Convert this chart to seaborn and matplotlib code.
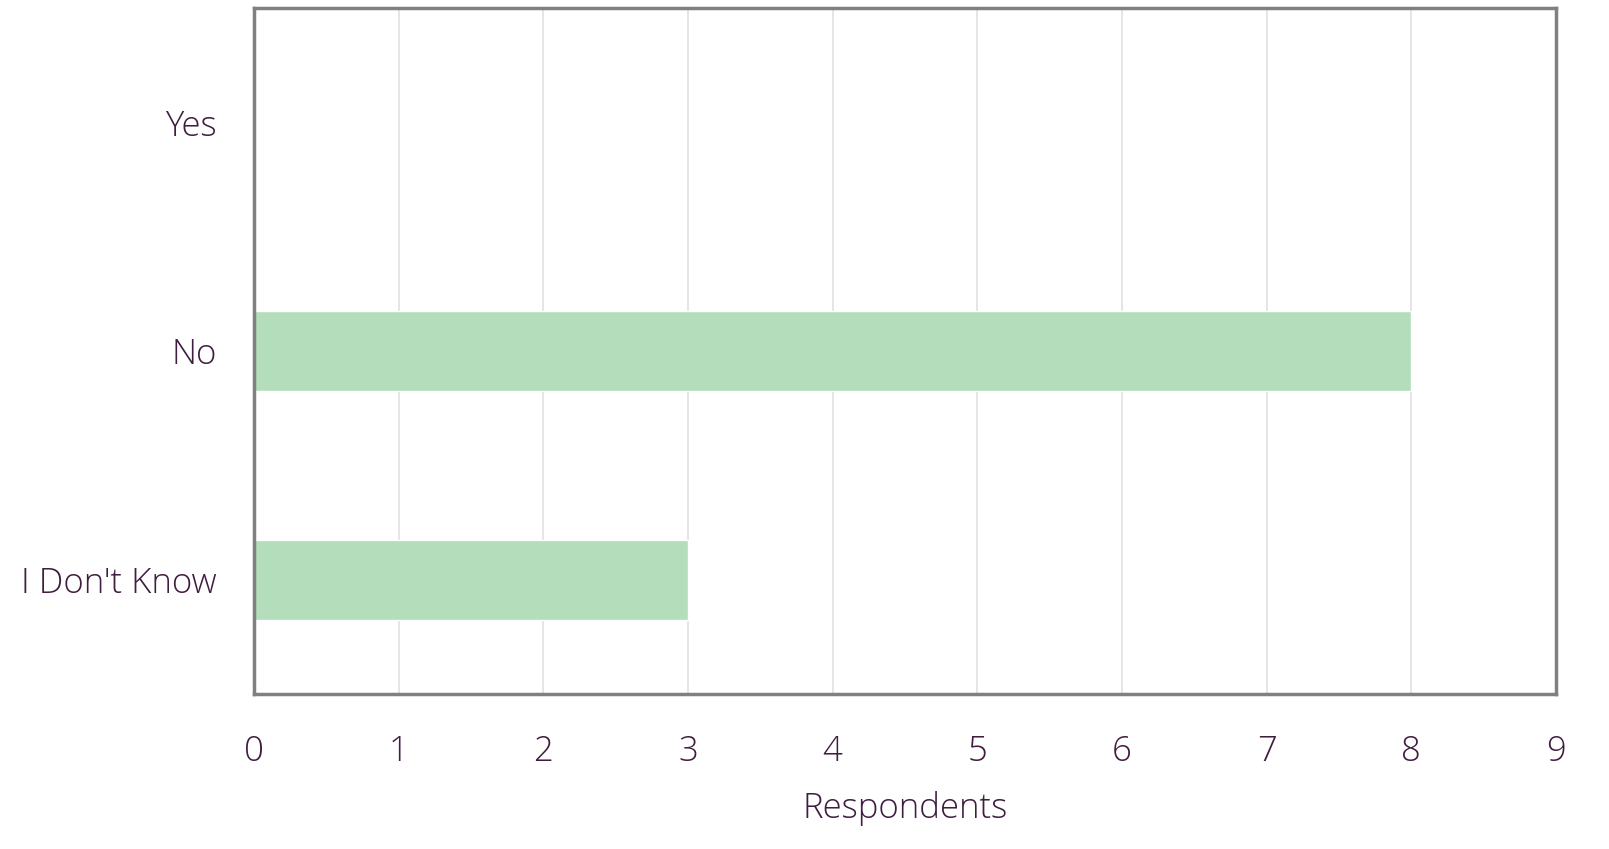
import pandas as pd
import matplotlib.pyplot as plt
import seaborn as sns

# Data
answers = ["Yes", "No", "I Don't Know"]
respondents = [0, 8, 3]
x_ticks = list(range(0, 10))

df = pd.DataFrame({"answer": answers, "respondents": respondents})

text_color = "#3f1d3f"
sns.set_theme(style="white")
plt.rcParams['font.family'] = ['Open Sans', 'DejaVu Sans']
plt.rcParams['font.weight'] = 'light'

fig = plt.figure(figsize=(16.09, 8.49), dpi=100)
ax = fig.add_axes([0.1579, 0.1826, 0.967 - 0.1579, 0.9906 - 0.1826])

sns.barplot(data=df, x="respondents", y="answer", color="#b3ddbb",
            saturation=1, width=0.35, ax=ax, zorder=2)

ax.set_xlim(0, 9)
ax.set_ylim(2.5, -0.5)
ax.set_xticks(x_ticks)
ax.grid(axis='x', color="#e3e3e3", linewidth=1.3, zorder=0)
ax.set_axisbelow(True)

for side in ax.spines.values():
    side.set_color("#808080")
    side.set_linewidth(2.5)

ax.tick_params(axis='x', length=0, pad=29, labelsize=25, labelcolor=text_color)
ax.tick_params(axis='y', length=0, pad=27, labelsize=25, labelcolor=text_color)
ax.set_xlabel("Respondents", fontsize=25, fontweight='light', color=text_color, labelpad=16)
ax.set_ylabel("")

plt.savefig("out.png", dpi=100)
plt.close()
